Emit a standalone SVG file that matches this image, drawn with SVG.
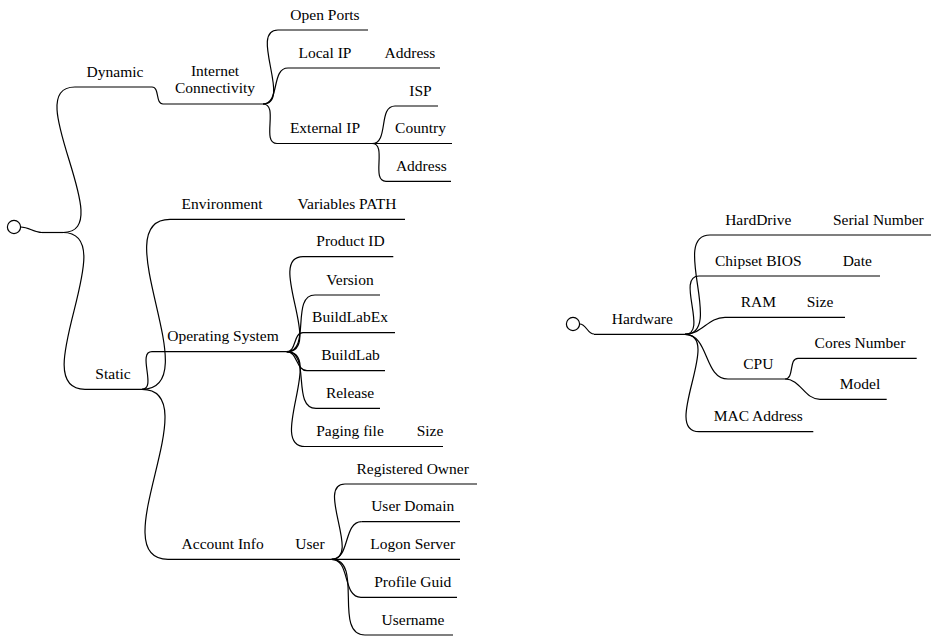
<svg xmlns="http://www.w3.org/2000/svg" width="931" height="637" viewBox="0 0 931 637">
<style>
text{font-family:"Liberation Serif","Times New Roman",serif;font-size:15.5px;fill:#000;text-anchor:middle}
.u{stroke:#000;stroke-width:1.2;fill:none}
.c{stroke:#000;stroke-width:1.2;fill:none}
.root{stroke:#000;stroke-width:1.2;fill:#fff}
</style>
<rect width="931" height="637" fill="#fff"/>
<g id="connectors">
<path class="c" d="M20.7,227 C29.3,227 33.4,232.5 42,232.5"/>
<path class="c" d="M63,232.5 C120.2,232.5 17.8,87 75,87"/>
<path class="c" d="M152,87 C159.9,87 155.1,104 163,104"/>
<path class="c" d="M263,104 C292.6,104 248.4,30 278,30"/>
<path class="c" d="M263,104 C280.2,104 270.8,68 288,68"/>
<path class="c" d="M263,104 C279.4,104 260.6,143.5 277,143.5"/>
<path class="c" d="M372,143.5 C389.2,143.5 377.8,106 395,106"/>
<path class="c" d="M372,143.5 C387.8,143.5 370.2,181.3 386,181.3"/>
<path class="c" d="M63,232.5 C125,232.5 23,389.3 85,389.3"/>
<path class="c" d="M142,389.3 C209.4,389.3 102.6,219.3 170,219.3"/>
<path class="c" d="M142,389.3 C157.2,389.3 136.8,351.7 152,351.7"/>
<path class="c" d="M142,389.3 C209.3,389.3 100.7,559.3 168,559.3"/>
<path class="c" d="M286.7,351.7 C324.4,351.7 265.3,256.7 303,256.7"/>
<path class="c" d="M286.7,351.7 C311.5,351.7 290.2,295 315,295"/>
<path class="c" d="M286.7,351.7 C296.5,351.7 293.2,332.7 303,332.7"/>
<path class="c" d="M286.7,351.7 C297.6,351.7 296.1,370.7 307,370.7"/>
<path class="c" d="M286.7,351.7 C311.6,351.7 291.1,408.3 316,408.3"/>
<path class="c" d="M286.7,351.7 C324.5,351.7 267.2,446.5 305,446.5"/>
<path class="c" d="M331.7,559.3 C361.6,559.3 315.1,484 345,484"/>
<path class="c" d="M331.7,559.3 C350.5,559.3 342.9,521.7 361.7,521.7"/>
<path class="c" d="M331.7,559.3 C350.5,559.3 342.2,597.3 361,597.3"/>
<path class="c" d="M331.7,559.3 C364.1,559.3 332.6,635 365,635"/>
<path class="c" d="M579.7,324 C586.5,324 587.2,334 594,334"/>
<path class="c" d="M685,334.3 C725.1,334.3 669.9,235 710,235"/>
<path class="c" d="M685,334.3 C708.5,334.3 675.5,276 699,276"/>
<path class="c" d="M685,334.3 C702,334.3 708,317.3 725,317.3"/>
<path class="c" d="M685,334.3 C709.3,334.3 703.7,379 728,379"/>
<path class="c" d="M785,379 C794.6,379 788.4,358.3 798,358.3"/>
<path class="c" d="M785,379 C800.8,379 804.2,399.3 820,399.3"/>
<path class="c" d="M685,334.3 C723.5,334.3 660.5,431.7 699,431.7"/>
</g>
<g id="root-left"><circle class="root" cx="14" cy="227" r="6.6"/></g>
<g id="hub-left"><path class="u" d="M42,232.5 H63"/></g>
<g id="dynamic"><path class="u" d="M75,87 H152"/><text x="115" y="76.5">Dynamic</text></g>
<g id="internet-connectivity"><path class="u" d="M163,104 H263"/><text x="215" y="75.5">Internet</text><text x="215" y="93.3">Connectivity</text></g>
<g id="open-ports"><path class="u" d="M278,30 H368"/><text x="325" y="19.5">Open Ports</text></g>
<g id="local-ip"><path class="u" d="M288,68 H368"/><text x="325" y="57.5">Local IP</text></g>
<g id="local-ip-address"><path class="u" d="M368,68 H440"/><text x="410" y="57.5">Address</text></g>
<g id="external-ip"><path class="u" d="M277,143.5 H372"/><text x="325" y="133">External IP</text></g>
<g id="isp"><path class="u" d="M395,106 H438"/><text x="420.5" y="95.5">ISP</text></g>
<g id="country"><path class="u" d="M372,143.5 H452"/><text x="420.5" y="133">Country</text></g>
<g id="ext-address"><path class="u" d="M386,181.3 H451"/><text x="421.3" y="170.8">Address</text></g>
<g id="static"><path class="u" d="M85,389.3 H142"/><text x="113" y="378.8">Static</text></g>
<g id="environment"><path class="u" d="M170,219.3 H290"/><text x="222" y="208.8">Environment</text></g>
<g id="variables-path"><path class="u" d="M290,219.3 H405"/><text x="347" y="208.8">Variables PATH</text></g>
<g id="operating-system"><path class="u" d="M152,351.7 H286.7"/><text x="223" y="341.2">Operating System</text></g>
<g id="product-id"><path class="u" d="M303,256.7 H393.3"/><text x="350.5" y="246.2">Product ID</text></g>
<g id="version"><path class="u" d="M315,295 H380"/><text x="350" y="284.5">Version</text></g>
<g id="buildlabex"><path class="u" d="M303,332.7 H395"/><text x="350" y="322.2">BuildLabEx</text></g>
<g id="buildlab"><path class="u" d="M307,370.7 H385"/><text x="350.5" y="360.2">BuildLab</text></g>
<g id="release"><path class="u" d="M316,408.3 H380"/><text x="350" y="397.8">Release</text></g>
<g id="paging-file"><path class="u" d="M305,446.5 H405"/><text x="350" y="436">Paging file</text></g>
<g id="paging-size"><path class="u" d="M405,446.5 H443"/><text x="430" y="436">Size</text></g>
<g id="account-info"><path class="u" d="M168,559.3 H285"/><text x="222.7" y="548.8">Account Info</text></g>
<g id="user"><path class="u" d="M285,559.3 H331.7"/><text x="310" y="548.8">User</text></g>
<g id="registered-owner"><path class="u" d="M345,484 H477"/><text x="412.7" y="473.5">Registered Owner</text></g>
<g id="user-domain"><path class="u" d="M361.7,521.7 H460"/><text x="412.7" y="511.2">User Domain</text></g>
<g id="logon-server"><path class="u" d="M331.7,559.3 H460"/><text x="412.7" y="548.8">Logon Server</text></g>
<g id="profile-guid"><path class="u" d="M361,597.3 H457"/><text x="412.7" y="586.8">Profile Guid</text></g>
<g id="username"><path class="u" d="M365,635 H453"/><text x="413" y="624.5">Username</text></g>
<g id="root-right"><circle class="root" cx="573" cy="324" r="6.6"/></g>
<g id="hardware"><path class="u" d="M594,334.3 H685"/><text x="642.3" y="323.5">Hardware</text></g>
<g id="harddrive"><path class="u" d="M710,235 H820"/><text x="758.3" y="224.5">HardDrive</text></g>
<g id="serial-number"><path class="u" d="M820,235 H931"/><text x="878.3" y="224.5">Serial Number</text></g>
<g id="chipset-bios"><path class="u" d="M699,276 H820"/><text x="758.3" y="265.5">Chipset BIOS</text></g>
<g id="bios-date"><path class="u" d="M820,276 H880"/><text x="857.3" y="265.5">Date</text></g>
<g id="ram"><path class="u" d="M725,317.3 H795"/><text x="758.3" y="306.8">RAM</text></g>
<g id="ram-size"><path class="u" d="M795,317.3 H845"/><text x="820" y="306.8">Size</text></g>
<g id="cpu"><path class="u" d="M728,379 H785"/><text x="758.3" y="368.5">CPU</text></g>
<g id="cores-number"><path class="u" d="M798,358.3 H916.7"/><text x="860" y="347.8">Cores Number</text></g>
<g id="model"><path class="u" d="M820,399.3 H886.7"/><text x="860" y="388.8">Model</text></g>
<g id="mac-address"><path class="u" d="M699,431.7 H813.3"/><text x="758.3" y="421.2">MAC Address</text></g>
</svg>
